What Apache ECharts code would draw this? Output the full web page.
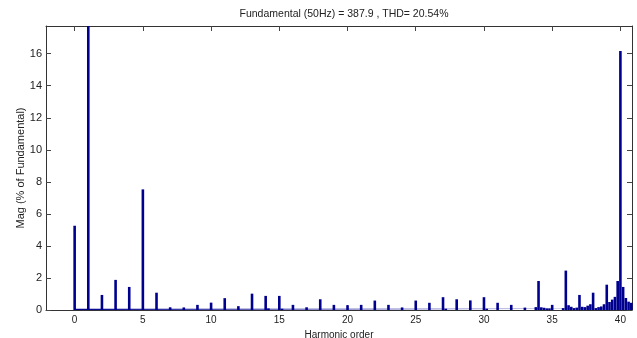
<!DOCTYPE html>
<html>
<head>
<meta charset="utf-8">
<script src="https://cdn.jsdelivr.net/npm/echarts@6/dist/echarts.min.js"></script>
<style>html,body{margin:0;padding:0;background:#fff;}#c{width:637px;height:338px;}</style>
</head>
<body>
<div id="c"></div>
<script>
// Harmonic order (bin positions) and magnitudes (% of fundamental)
const harmonicOrder = [0,1,2,3,4,5,6,7,8,9,10,11,12,13,14,14.2,15,15.2,16,17,18,19,20,21,22,23,24,25,26,27,27.2,28,29,30,30.2,31,32,33,33.8,34,34.2,34.4,34.6,34.8,35,35.8,36,36.2,36.4,36.6,36.8,37,37.2,37.4,37.6,37.8,38,38.2,38.4,38.6,38.8,39,39.2,39.4,39.6,39.8,40,40.2,40.4,40.6,40.8];
const magnitude = [5.26,100,0.94,1.88,1.44,7.53,1.08,0.17,0.16,0.32,0.46,0.74,0.24,1.02,0.88,0.1,0.88,0.08,0.32,0.17,0.67,0.32,0.3,0.32,0.59,0.32,0.16,0.59,0.45,0.8,0.08,0.67,0.6,0.8,0.08,0.45,0.32,0.15,0.18,1.81,0.17,0.14,0.1,0.1,0.32,0.12,2.46,0.3,0.2,0.12,0.15,0.94,0.2,0.18,0.27,0.36,1.08,0.12,0.18,0.22,0.36,1.58,0.5,0.65,0.82,1.81,16.17,1.44,0.75,0.52,0.45];
// low-level floor of the spectrum (continuous strip of tiny bins)
const floorX = [0, 40.85];
const floorVal = [0.08, 0.08];
const xTicks = [0,5,10,15,20,25,30,35,40];
const yTicks = [0,2,4,6,8,10,12,14,16];
const xRange = [-2.1, 40.85];
const yRange = [0, 17.73];
const titleText = 'Fundamental (50Hz) = 387.9 , THD= 20.54%';

const font = 'Liberation Sans';
const txt = '#222';
const chart = echarts.init(document.getElementById('c'), null, {renderer: 'canvas'});
const axisLine = {show: true, onZero: false, lineStyle: {color: '#333', width: 1}};
const tick = (vals) => ({show: true, inside: true, length: 5, lineStyle: {color: '#444'}, customValues: vals});
chart.setOption({
  animation: false,
  backgroundColor: '#fff',
  title: {
    text: titleText, left: 339, top: 4, textAlign: 'center',
    textStyle: {fontFamily: font, fontSize: 10.5, fontWeight: 'normal', color: txt}
  },
  grid: {left: 46, right: 5, top: 26, bottom: 28, containLabel: false, outerBoundsMode: 'none'},
  xAxis: [{
    type: 'value', min: xRange[0], max: xRange[1], position: 'bottom',
    name: 'Harmonic order', nameLocation: 'middle', nameGap: 16,
    nameTextStyle: {fontFamily: font, fontSize: 10, color: txt},
    axisLine: axisLine, axisTick: tick(xTicks), splitLine: {show: false},
    axisLabel: {customValues: xTicks, fontFamily: font, fontSize: 10, color: txt, margin: 5}
  }, {
    type: 'value', min: xRange[0], max: xRange[1], position: 'top',
    axisLine: axisLine, axisTick: tick(xTicks), axisLabel: {show: false}, splitLine: {show: false}
  }],
  yAxis: [{
    type: 'value', min: yRange[0], max: yRange[1], position: 'left',
    name: 'Mag (% of Fundamental)', nameLocation: 'middle', nameGap: 20, nameMoveOverlap: false,
    nameTextStyle: {fontFamily: font, fontSize: 11, color: txt},
    axisLine: axisLine, axisTick: tick(yTicks), splitLine: {show: false},
    axisLabel: {customValues: yTicks, fontFamily: font, fontSize: 11, color: txt, margin: 4}
  }, {
    type: 'value', min: yRange[0], max: yRange[1], position: 'right',
    axisLine: axisLine, axisTick: tick(yTicks), axisLabel: {show: false}, splitLine: {show: false}
  }],
  series: [{
    type: 'line', xAxisIndex: 0, yAxisIndex: 0, symbol: 'none', silent: true,
    data: floorX.map((x, i) => [x, floorVal[i]]),
    lineStyle: {width: 0}, areaStyle: {color: '#00008F', opacity: 1}, z: 1
  }, {
    type: 'bar', xAxisIndex: 0, yAxisIndex: 0, barWidth: 2.6, clip: true,
    data: harmonicOrder.map((x, i) => [x, magnitude[i]]),
    itemStyle: {color: '#00008F'}, z: 2
  }]
});
</script>
</body>
</html>
